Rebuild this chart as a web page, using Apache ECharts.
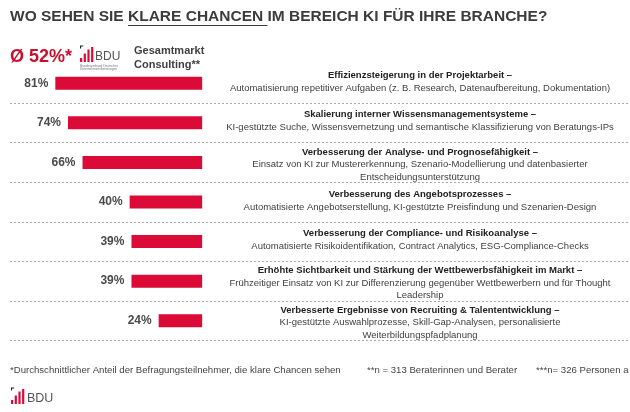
<!DOCTYPE html>
<html><head><meta charset="utf-8">
<script src="https://cdn.jsdelivr.net/npm/echarts@6/dist/echarts.min.js"></script>
<style>html,body{margin:0;padding:0;background:#fff}#c{width:630px;height:412px}</style>
</head><body><div id="c"></div>
<script>
// ---- data ----
const values = [81, 74, 66, 40, 39, 39, 24];
const titles = [
  'Effizienzsteigerung in der Projektarbeit –',
  'Skalierung interner Wissensmanagementsysteme –',
  'Verbesserung der Analyse- und Prognosefähigkeit –',
  'Verbesserung des Angebotsprozesses –',
  'Verbesserung der Compliance- und Risikoanalyse –',
  'Erhöhte Sichtbarkeit und Stärkung der Wettbewerbsfähigkeit im Markt –',
  'Verbesserte Ergebnisse von Recruiting & Talententwicklung –'
];
const details = [
  ['Automatisierung repetitiver Aufgaben (z. B. Research, Datenaufbereitung, Dokumentation)'],
  ['KI-gestützte Suche, Wissensvernetzung und semantische Klassifizierung von Beratungs-IPs'],
  ['Einsatz von KI zur Mustererkennung, Szenario-Modellierung und datenbasierter', 'Entscheidungsunterstützung'],
  ['Automatisierte Angebotserstellung, KI-gestützte Preisfindung und Szenarien-Design'],
  ['Automatisierte Risikoidentifikation, Contract Analytics, ESG-Compliance-Checks'],
  ['Frühzeitiger Einsatz von KI zur Differenzierung gegenüber Wettbewerbern und für Thought', 'Leadership'],
  ['KI-gestützte Auswahlprozesse, Skill-Gap-Analysen, personalisierte', 'Weiterbildungspfadplanung']
];
const headline = 'WO SEHEN SIE KLARE CHANCEN IM BEREICH KI FÜR IHRE BRANCHE?';
const headlineUnderlined = 'KLARE CHANCEN ';
const averageText = 'Ø 52%*';
const segmentLines = ['Gesamtmarkt', 'Consulting**'];
const footnotes = [
  '*Durchschnittlicher Anteil der Befragungsteilnehmer, die klare Chancen sehen',
  '**n = 313 Beraterinnen und Berater',
  '***n= 326 Personen a'
];
const logoText = 'BDU';
const logoSub = ['Bundesverband Deutscher', 'Unternehmensberatungen'];

// ---- styles ----
const FF = '"Liberation Sans", Arial, Helvetica, sans-serif';
const RED = '#dc0a36';
const DARK = '#404040';

const chart = echarts.init(document.getElementById('c'), null, {renderer: 'canvas'});

chart.setOption({
  animation: false,
  backgroundColor: '#ffffff',
  grid: {left: 10, right: 0, top: 63.5, bottom: 71.5, containLabel: false},
  xAxis: {
    type: 'value', inverse: true, min: -236, max: 106, show: false
  },
  yAxis: {
    type: 'category', inverse: true, data: titles,
    axisLine: {show: false}, axisTick: {show: false}, axisLabel: {show: false},
    splitLine: {
      show: true,
      interval: function (idx) { return idx !== 0; },
      lineStyle: {color: '#a9a9a9', width: 1, type: [2, 2]}
    }
  },
  series: [{
    type: 'bar',
    data: values,
    barWidth: 13,
    itemStyle: {color: RED},
    label: {
      show: true, position: 'left', distance: 7,
      formatter: p => p.value + '%',
      fontFamily: FF, fontSize: 12, fontWeight: 'bold', color: '#4a4a4a'
    },
    silent: true
  }]
});

// ---- text & decoration ----
const ctx = document.createElement('canvas').getContext('2d');
function tw(text, font) { ctx.font = font; return ctx.measureText(text).width; }

function logo(x, bottom, s) {
  const els = [];
  const bw = 2.2 * s, gap = 1.5 * s;
  const hs = [4, 8.5, 12.5, 15];
  els.push({type: 'polygon', shape: {points: [[x, bottom - 16.5 * s], [x + 3.2 * s, bottom - 16.5 * s], [x + 3.2 * s, bottom - 15.4 * s], [x + 1.1 * s, bottom - 15.4 * s], [x + 1.1 * s, bottom - 13.6 * s], [x, bottom - 13.6 * s]]}, style: {fill: '#222'}});
  hs.forEach((h, i) => {
    els.push({type: 'rect', shape: {x: x + i * (bw + gap), y: bottom - h * s, width: bw, height: h * s}, style: {fill: RED}});
  });
  return els;
}

function txt(text, x, y, size, weight, color, align, extra) {
  return Object.assign({
    type: 'text', x: x, y: y, silent: true,
    style: {
      text: text, fontFamily: FF, fontSize: size, fontWeight: weight || 'normal',
      fill: color || DARK, align: align || 'left', verticalAlign: 'middle',
      textAlign: align || 'left', textVerticalAlign: 'middle'
    }
  }, extra || {});
}

function draw() {
  const els = [];
  const hFont = 'bold 15.5px ' + FF;
  els.push(txt(headline, 10, 17, 15.5, 'bold', '#3c3c3c'));
  const pre = headline.slice(0, headline.indexOf(headlineUnderlined));
  const ux = 10 + tw(pre, hFont);
  const uw = tw(headlineUnderlined, hFont);
  els.push({type: 'line', shape: {x1: ux, y1: 25.5, x2: ux + uw, y2: 25.5}, style: {stroke: '#3c3c3c', lineWidth: 1.2}});

  els.push(txt(averageText, 10, 57, 18, 'bold', '#c8102e'));
  logo(80, 62, 1).forEach(e => els.push(e));
  els.push(txt(logoText, 95, 56.5, 12, 'normal', '#555'));
  els.push(txt(logoSub[0], 80, 66, 3.2, 'normal', '#777'));
  els.push(txt(logoSub[1], 80, 69.5, 3.2, 'normal', '#777'));
  els.push(txt(segmentLines[0], 134, 51, 11, 'bold', DARK));
  els.push(txt(segmentLines[1], 134, 65, 11, 'bold', DARK));

  const cx = 420;
  titles.forEach((t, i) => {
    const cy = chart.convertToPixel({gridIndex: 0}, [0, i])[1];
    const lines = [t].concat(details[i]);
    const start = lines.length === 2 ? -8 : -10.5;
    const step = lines.length === 2 ? 13 : 12.5;
    lines.forEach((ln, k) => {
      els.push(txt(ln, cx, cy + start + k * step, 9.5, k === 0 ? 'bold' : 'normal', k === 0 ? '#222' : DARK, 'center'));
    });
  });

  els.push(txt(footnotes[0], 10, 370, 9.6, 'normal', '#444'));
  els.push(txt(footnotes[1], 367, 370, 9.6, 'normal', '#444'));
  els.push(txt(footnotes[2], 536, 370, 9.6, 'normal', '#444'));

  logo(11, 404, 1).forEach(e => els.push(e));
  els.push(txt(logoText, 27, 398.5, 12.5, 'normal', '#555'));

  chart.setOption({graphic: {elements: els}});
}
draw();
</script>
</body></html>
